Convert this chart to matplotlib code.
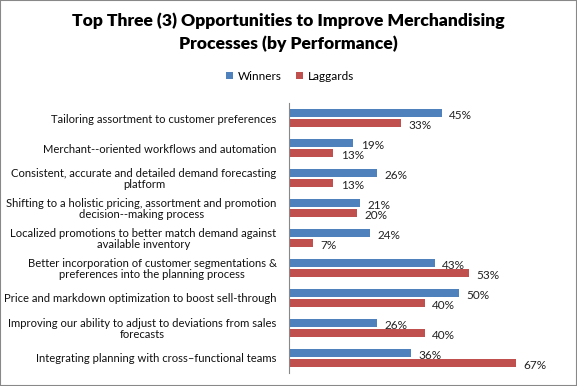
import numpy as np
import matplotlib
matplotlib.use("Agg")
import matplotlib.pyplot as plt
from matplotlib.patches import Rectangle

plt.rcParams['font.family'] = ['Lato', 'DejaVu Sans']

# === Data ===
categories = [
    "Tailoring assortment to customer preferences",
    "Merchant--oriented workflows and automation",
    "Consistent, accurate and detailed demand forecasting\nplatform",
    "Shifting to a holistic pricing, assortment and promotion\ndecision--making process",
    "Localized promotions to better match demand against\navailable inventory",
    "Better incorporation of customer segmentations &\npreferences into the planning process",
    "Price and markdown optimization to boost sell-through",
    "Improving our ability to adjust to deviations from sales\nforecasts",
    "Integrating planning with cross\u2013functional teams",
]
winners = [45, 19, 26, 21, 24, 43, 50, 26, 36]
laggards = [33, 13, 13, 20, 7, 53, 40, 40, 67]

blue = "#4F81BD"
red = "#C0504D"

fig = plt.figure(figsize=(5.77, 3.86), dpi=100)
ax = fig.add_axes([0.501, 0.034, 0.47, 0.699])

y = np.arange(len(categories))
h = 0.26
off = 0.175
ax.barh(y - off, winners, height=h, color=blue, label="Winners")
ax.barh(y + off, laggards, height=h, color=red, label="Laggards")

for yi, w, l in zip(y, winners, laggards):
    ax.text(w + 2.2, yi - off + 0.08, f"{w}%", va="center", ha="left", fontsize=8.5, color="#222222")
    ax.text(l + 2.2, yi + off + 0.08, f"{l}%", va="center", ha="left", fontsize=8.5, color="#222222")

ax.set_xlim(0, 80)
ax.set_ylim(len(categories) - 0.5, -0.5)
ax.set_yticks(y)
ax.set_yticklabels(categories, fontsize=8.1, multialignment="center", color="#111111",
                   linespacing=1.05)
ax.tick_params(axis="y", length=0, pad=9)
ax.set_xticks([])
for s in ["top", "right", "bottom"]:
    ax.spines[s].set_visible(False)
ax.spines["left"].set_color("#888888")
ax.spines["left"].set_linewidth(0.8)

fig.text(0.5, 0.916, "Top Three (3) Opportunities to Improve Merchandising\nProcesses (by Performance)",
         ha="center", va="center", fontsize=12.6, fontweight="heavy", linespacing=1.45)

fig.legend(loc="center", bbox_to_anchor=(0.503, 0.803), ncol=2, frameon=False, fontsize=8.5,
           handlelength=0.6, handleheight=0.6, handletextpad=0.4, columnspacing=1.2)

fig.patches.append(Rectangle((0, 0), 1, 1, transform=fig.transFigure, fill=False,
                             edgecolor="#888888", linewidth=1.5))

fig.savefig("out.png", dpi=100)
